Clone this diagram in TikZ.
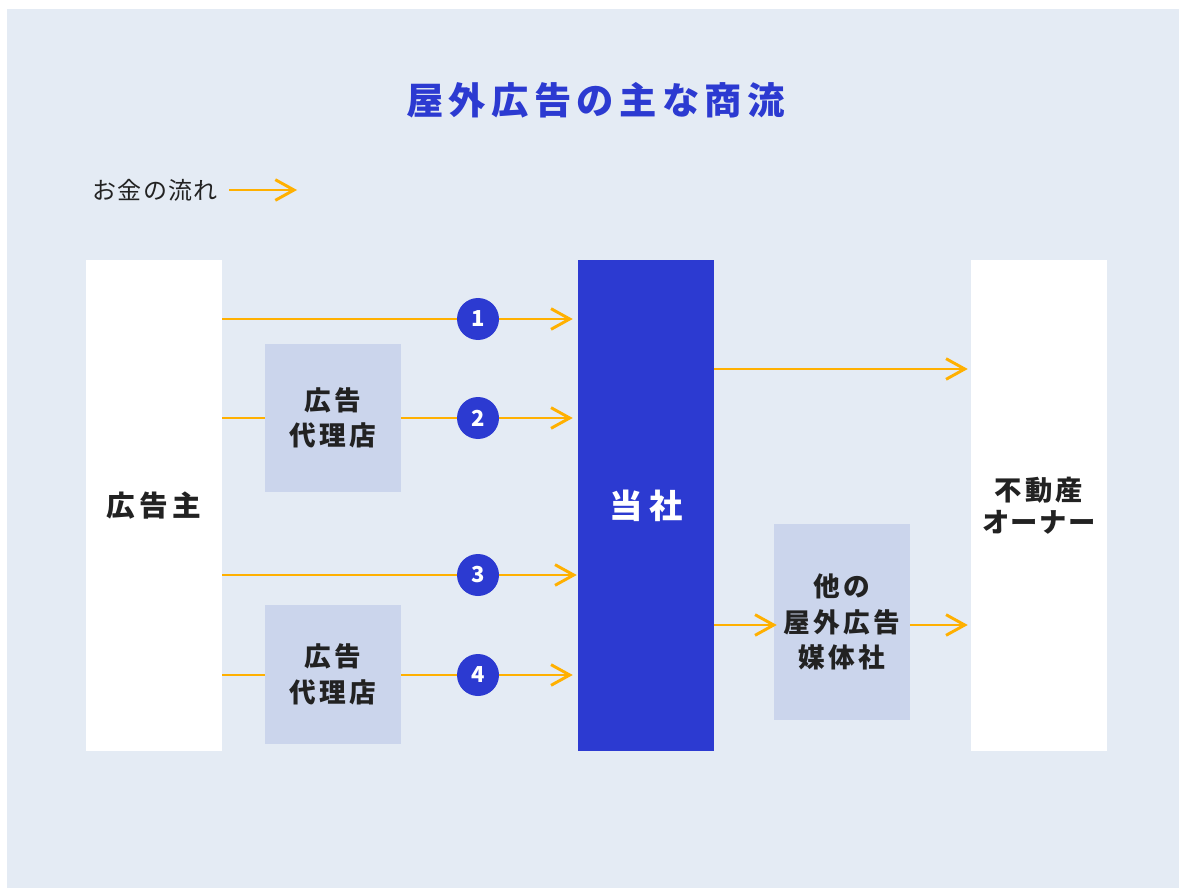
\documentclass[tikz,border=0pt]{standalone}
\usepackage{fontspec}
\setmainfont{Noto Sans CJK JP}
\usetikzlibrary{arrows.meta}
\definecolor{bgc}{HTML}{E4EBF4}
\definecolor{boxc}{HTML}{CBD5EC}
\definecolor{bluec}{HTML}{2C3AD1}
\definecolor{orangec}{HTML}{FFB000}
\definecolor{txtc}{HTML}{222222}
\makeatletter
\newcommand\lsp[2]{\def\lsp@sep{}\@tfor\lsp@x:=#2\do{\lsp@sep\lsp@x\def\lsp@sep{\kern#1}}}
\makeatother
\tikzset{
  bigbox/.style={rectangle, inner sep=0pt, minimum width=102pt, minimum height=368.25pt, font=\bfseries\fontsize{21.5pt}{26pt}\selectfont, text=txtc, align=center},
  midbox/.style={rectangle, inner sep=0pt, minimum width=102pt, fill=boxc, font=\bfseries\fontsize{20pt}{26.5pt}\selectfont, text=txtc, align=center},
  flow/.style={draw=orangec, line width=2.2pt, -{Straight Barb[length=14pt,width=15.5pt]}},
  plain/.style={draw=orangec, line width=2.2pt},
  num/.style={circle, fill=bluec, text=white, inner sep=0pt, minimum size=31.5pt, font=\bfseries\fontsize{16.5pt}{16.5pt}\selectfont}
}
\begin{document}
\begin{tikzpicture}[x=0.75pt,y=-0.75pt]
\useasboundingbox (0,0) rectangle (1179,888);
\fill[bgc] (7,9) rectangle (1179,888);
\node[text=bluec, font=\bfseries\fontsize{28pt}{28pt}\selectfont] (title) at (595.5,100) {\lsp{4pt}{屋外広告の主な商流}};
\node[text=txtc, font=\fontsize{18pt}{18pt}\selectfont, anchor=east, inner sep=0pt] (leg) at (218,190) {\lsp{1pt}{お金の流れ}};
\coordinate (legA) at (229,190);
\coordinate (legB) at (297,190);
\draw[flow] (legA) -- (legB);
% main boxes
\node[bigbox, fill=white] (adv) at (154,505.5) {\lsp{3.5pt}{広告主}};
\node[bigbox, fill=bluec, text=white, font=\bfseries\fontsize{25pt}{25pt}\selectfont] (us) at (646,505.5) {\lsp{5pt}{当社}};
\node[bigbox, fill=white, font=\bfseries\fontsize{20.5pt}{24pt}\selectfont] (own) at (1039,505.5) {\lsp{2.5pt}{不動産}\\\lsp{1pt}{オーナー}};
\node[midbox, minimum height=111pt] (ag1) at (333,418) {\lsp{2.5pt}{広告}\\\lsp{2.5pt}{代理店}};
\node[midbox, minimum height=104.25pt] (ag2) at (333,674.5) {\lsp{2.5pt}{広告}\\\lsp{2.5pt}{代理店}};
\node[midbox, minimum height=147pt] (oth) at (842,622) {\lsp{2.5pt}{他の}\\\lsp{2.5pt}{屋外広告}\\\lsp{2.5pt}{媒体社}};
% flows
\draw[flow, shorten >=3.75pt] (adv.east |- 0,319) -- (us.west |- 0,319);
\draw[plain] (adv.east |- 0,418) -- (ag1.west |- 0,418);
\draw[flow, shorten >=3.75pt] (ag1.east |- 0,418) -- (us.west |- 0,418);
\draw[flow, shorten >=0.75pt] (adv.east |- 0,575) -- (us.west |- 0,575);
\draw[plain] (adv.east |- 0,675) -- (ag2.west |- 0,675);
\draw[flow, shorten >=3.75pt] (ag2.east |- 0,675) -- (us.west |- 0,675);
\draw[flow, shorten >=2.25pt] (us.east |- 0,369) -- (own.west |- 0,369);
\draw[flow, shorten >=-2.25pt] (us.east |- 0,625) -- (oth.west |- 0,625);
\draw[flow, shorten >=2.25pt] (oth.east |- 0,625) -- (own.west |- 0,625);
% numbers
\node[num] (c1) at (478,319) {1};
\node[num] (c2) at (478,418) {2};
\node[num] (c3) at (478,575) {3};
\node[num] (c4) at (478,675) {4};
\end{tikzpicture}
\end{document}
